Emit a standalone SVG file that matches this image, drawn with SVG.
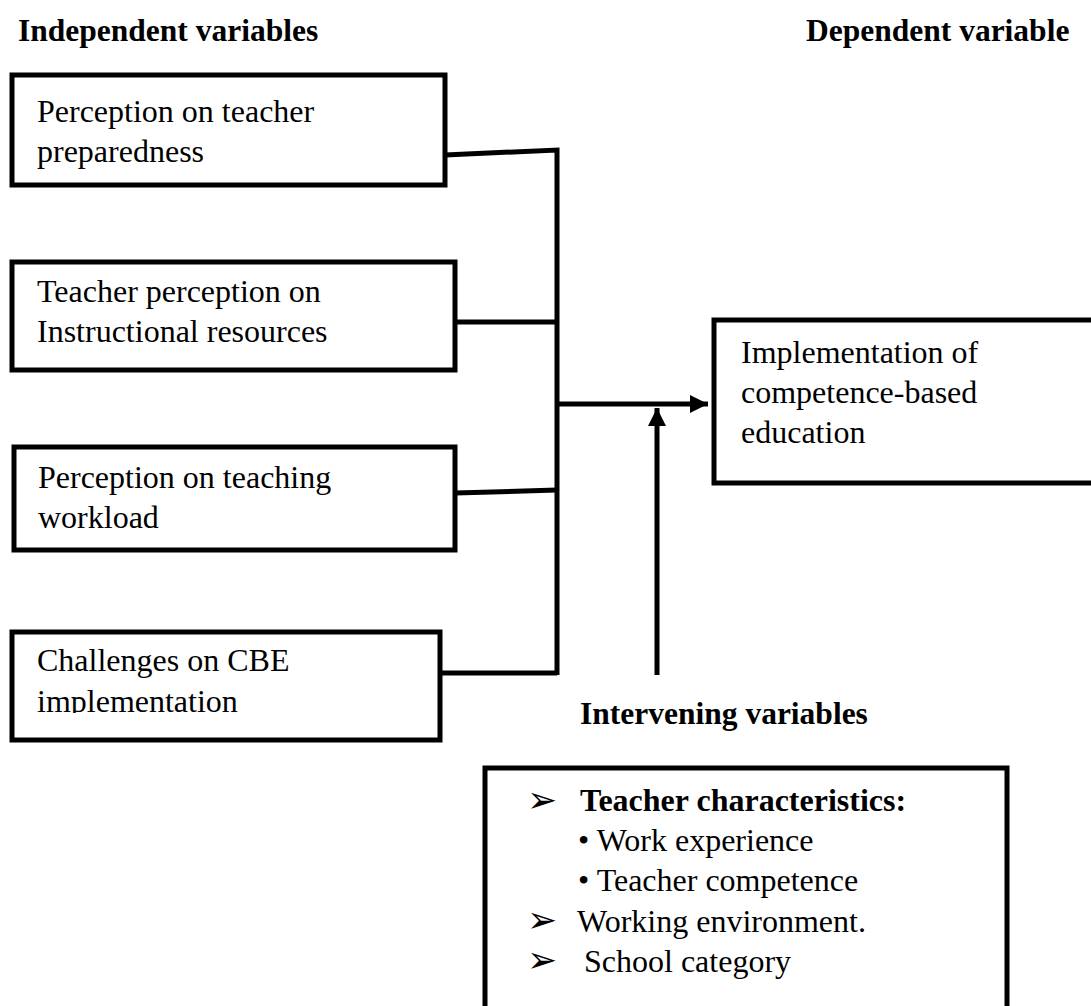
<svg xmlns="http://www.w3.org/2000/svg" width="1091" height="1006" viewBox="0 0 1091 1006">
<style>
.box{fill:#fff;stroke:#000;stroke-width:5}
.t{font-family:"Liberation Serif","Times New Roman",serif;font-size:32px;fill:#000}
.h{font-size:31.5px}
.b{font-weight:bold}
.ln{stroke:#000;stroke-width:5;fill:none}
.sym{font-family:"DejaVu Sans",sans-serif;font-size:36px;fill:#000}
</style>
<defs>
<marker id="ah" viewBox="0 0 10 10" refX="10" refY="5" markerWidth="4" markerHeight="3.6" orient="auto" markerUnits="strokeWidth">
<path d="M0,0 L10,5 L0,10 z" fill="#000"/>
</marker>
<clipPath id="c4"><rect x="0" y="600" width="460" height="113"/></clipPath>
</defs>
<rect width="1091" height="1006" fill="#fff"/>
<text class="t b h" x="18" y="41">Independent variables</text>
<text class="t b h" x="806" y="41">Dependent variable</text>
<g id="connectors">
<polyline class="ln" points="445,155 557,150 557,675"/>
<line class="ln" x1="455" y1="322" x2="557" y2="322"/>
<line class="ln" x1="455" y1="493" x2="557" y2="490"/>
<line class="ln" x1="440" y1="673" x2="557" y2="673"/>
<line class="ln" x1="557" y1="404" x2="708" y2="404" marker-end="url(#ah)"/>
<line class="ln" x1="657" y1="675" x2="657" y2="408" marker-end="url(#ah)"/>
</g>
<g id="n1">
<rect class="box" x="12" y="75" width="433" height="110"/>
<text class="t" x="37" y="122">Perception on teacher</text>
<text class="t" x="37" y="162">preparedness</text>
</g>
<g id="n2">
<rect class="box" x="12" y="262" width="443" height="108"/>
<text class="t" x="37" y="302">Teacher perception on</text>
<text class="t" x="37" y="342">Instructional resources</text>
</g>
<g id="n3">
<rect class="box" x="14" y="447" width="441" height="103"/>
<text class="t" x="38" y="488">Perception on teaching</text>
<text class="t" x="38" y="528">workload</text>
</g>
<g id="n4">
<rect class="box" x="12" y="632" width="428" height="108"/>
<g clip-path="url(#c4)">
<text class="t" x="37" y="671">Challenges on CBE</text>
<text class="t" x="37" y="712">implementation</text>
</g>
</g>
<g id="n5">
<rect class="box" x="714" y="320" width="400" height="163"/>
<text class="t" x="741" y="363">Implementation of</text>
<text class="t" x="741" y="403">competence-based</text>
<text class="t" x="741" y="443">education</text>
</g>
<text class="t b h" x="580" y="724">Intervening variables</text>
<g id="n6">
<rect class="box" x="485" y="768" width="522" height="260"/>
<text class="sym" x="527" y="812">➢</text>
<text class="t b" x="580" y="811">Teacher characteristics:</text>
<text class="t" x="578" y="851">• Work experience</text>
<text class="t" x="578" y="891">• Teacher competence</text>
<text class="sym" x="527" y="932">➢</text>
<text class="t" x="577" y="932">Working environment.</text>
<text class="sym" x="527" y="972">➢</text>
<text class="t" x="584" y="972">School category</text>
</g>
</svg>
